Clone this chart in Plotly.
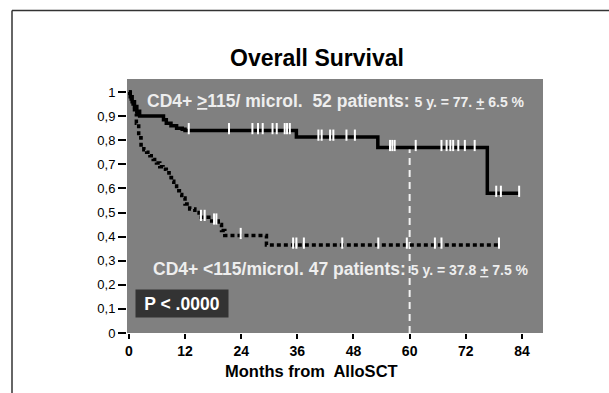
import numpy as np
import plotly.graph_objects as go

# ---- data ----
# CD4+ >=115 / microl. (52 patients) : step points (month, survival)
high_t = [0, 0.3, 0.7, 1.2, 1.7, 2.3, 7.4, 8.0, 9.0, 10.2, 11.4, 12.0, 35.8, 53.2, 76.6, 83.5]
high_s = [1.0, 0.98, 0.96, 0.94, 0.92, 0.90, 0.885, 0.87, 0.86, 0.85, 0.845, 0.84, 0.813, 0.77, 0.58, 0.58]
high_cens = [12.8, 21.4, 26.4, 27.6, 28.6, 30.7, 31.6, 33.3, 33.8, 34.4,
             40.5, 41.2, 43.0, 43.7, 46.5, 48.3,
             55.8, 56.3, 56.8, 61.3, 66.8, 67.9, 68.7, 69.3, 70.4, 71.8, 73.9,
             78.5, 79.5, 83.4]

# CD4+ <115 / microl. (47 patients)
low_t = [0, 0.2, 0.5, 0.9, 1.2, 1.6, 2.1, 2.6, 3.2, 3.8, 4.5, 5.2, 5.9, 6.6, 7.3, 8.0,
         8.6, 9.1, 9.6, 10.2, 10.8, 11.3, 12.0, 13.0, 14.1, 15.0, 17.7, 19.1, 19.8, 20.5, 29.4, 79.2]
low_s = [1.0, 0.98, 0.96, 0.935, 0.91, 0.87, 0.81, 0.78, 0.76, 0.75, 0.735, 0.72, 0.705, 0.69, 0.68, 0.665,
         0.645, 0.63, 0.61, 0.59, 0.575, 0.56, 0.535, 0.515, 0.50, 0.48, 0.465, 0.45, 0.425, 0.405, 0.365, 0.365]
low_cens = [15.4, 16.2, 18.2, 18.7, 23.9,
            35.1, 35.8, 37.4, 45.6, 53.3, 59.4, 65.4, 66.8, 79.1]

x_ticks = [0, 12, 24, 36, 48, 60, 72, 84]
y_ticks = [0, 0.1, 0.2, 0.3, 0.4, 0.5, 0.6, 0.7, 0.8, 0.9, 1.0]
y_ticktext = ["0", "0,1", "0,2", "0,3", "0,4", "0,5", "0,6", "0,7", "0,8", "0,9", "1"]
landmark_month = 60

high_label = ("<b>CD4+ <u>></u>115/ microl.\u00a0 52 patients: "
              "<span style='font-size:14px'>5 y. = 77. <u>+</u> 6.5 %</span></b>")
low_label = ("<b>CD4+ <115/microl. 47 patients: "
             "<span style='font-size:14px'>5 y. = 37.8 <u>+</u> 7.5 %</span></b>")
p_label = "<b>P < .0000</b>"


def step_at(ts, ss, t):
    i = np.searchsorted(np.asarray(ts), t, side="right") - 1
    return float(np.asarray(ss)[max(i, 0)])


FONT = "Liberation Sans, Arial, sans-serif"
TXT = "#eeeeee"

PL, PT, PR, PB = 127, 79, 543, 333   # plot area in window pixels
W, H = 609, 393

def px_x(p):
    return (p - PL) / (PR - PL)

def px_y(p):
    return (PB - p) / (PB - PT)

fig = go.Figure()

# landmark line at 5 years
fig.add_trace(go.Scatter(
    x=[landmark_month, landmark_month], y=[0, step_at(high_t, high_s, landmark_month)],
    mode="lines", line=dict(color="#f2f2f2", width=2, dash="7px,5px"),
    hoverinfo="skip", showlegend=False))

fig.add_trace(go.Scatter(
    x=low_t, y=low_s, mode="lines", line=dict(color="black", width=3.5, shape="hv", dash="4px,3px"),
    showlegend=False))
fig.add_trace(go.Scatter(
    x=high_t, y=high_s, mode="lines", line=dict(color="black", width=3.5, shape="hv"),
    showlegend=False))

for cens, ts, ss in [(high_cens, high_t, high_s), (low_cens, low_t, low_s)]:
    fig.add_trace(go.Scatter(
        x=cens, y=[step_at(ts, ss, c) + 0.008 for c in cens], mode="markers",
        marker=dict(symbol="line-ns", size=8, line=dict(color="white", width=2)),
        showlegend=False))

frame = dict(color="#333333", width=1.5)
fig.update_layout(
    width=W, height=H,
    margin=dict(l=PL, r=W - PR, t=PT, b=H - PB),
    paper_bgcolor="white", plot_bgcolor="#808080",
    font=dict(family=FONT, color="black"),
    xaxis=dict(range=[-0.4, 88.5], tickvals=x_ticks, ticks="outside", ticklen=5, tickwidth=2,
               tickcolor="black", showgrid=False, zeroline=False, showline=False,
               tickfont=dict(family=FONT, size=14, color="black", weight="bold")),
    yaxis=dict(range=[0, 1.054], tickvals=y_ticks, ticktext=y_ticktext, ticks="outside",
               ticklen=8, tickwidth=2, tickcolor="black", showgrid=False, zeroline=False,
               showline=False, tickfont=dict(family=FONT, size=13, color="black")),
    shapes=[
        dict(type="line", xref="paper", yref="paper",
             x0=px_x(12), x1=px_x(W), y0=px_y(10.5), y1=px_y(10.5), line=frame, layer="below"),
        dict(type="line", xref="paper", yref="paper",
             x0=px_x(12), x1=px_x(12), y0=px_y(10.5), y1=px_y(H), line=frame, layer="below"),
    ],
    annotations=[
        dict(text="<b>Overall Survival</b>", xref="paper", yref="paper",
             x=px_x(317), y=px_y(43), showarrow=False,
             font=dict(family=FONT, size=23, color="black")),
        dict(text="<b>Months from\u00a0 AlloSCT</b>", xref="paper", yref="paper",
             x=px_x(311), y=px_y(382), showarrow=False,
             font=dict(family=FONT, size=16.5, color="black")),
        dict(text=high_label, x=3.4, y=0.963, xanchor="left", showarrow=False,
             font=dict(family=FONT, size=17.5, color=TXT)),
        dict(text=low_label, x=4.7, y=0.264, xanchor="left", showarrow=False,
             font=dict(family=FONT, size=17.5, color=TXT)),
        dict(text=p_label, x=11.3, y=0.122, showarrow=False, bgcolor="#333333",
             width=88, height=23, borderpad=2, align="center",
             font=dict(family=FONT, size=17.5, color="white")),
    ],
)

fig.write_html(
    "out.html",
    config={"displayModeBar": False},
    post_script="document.body.style.margin='0';document.body.style.overflow='hidden';",
)
